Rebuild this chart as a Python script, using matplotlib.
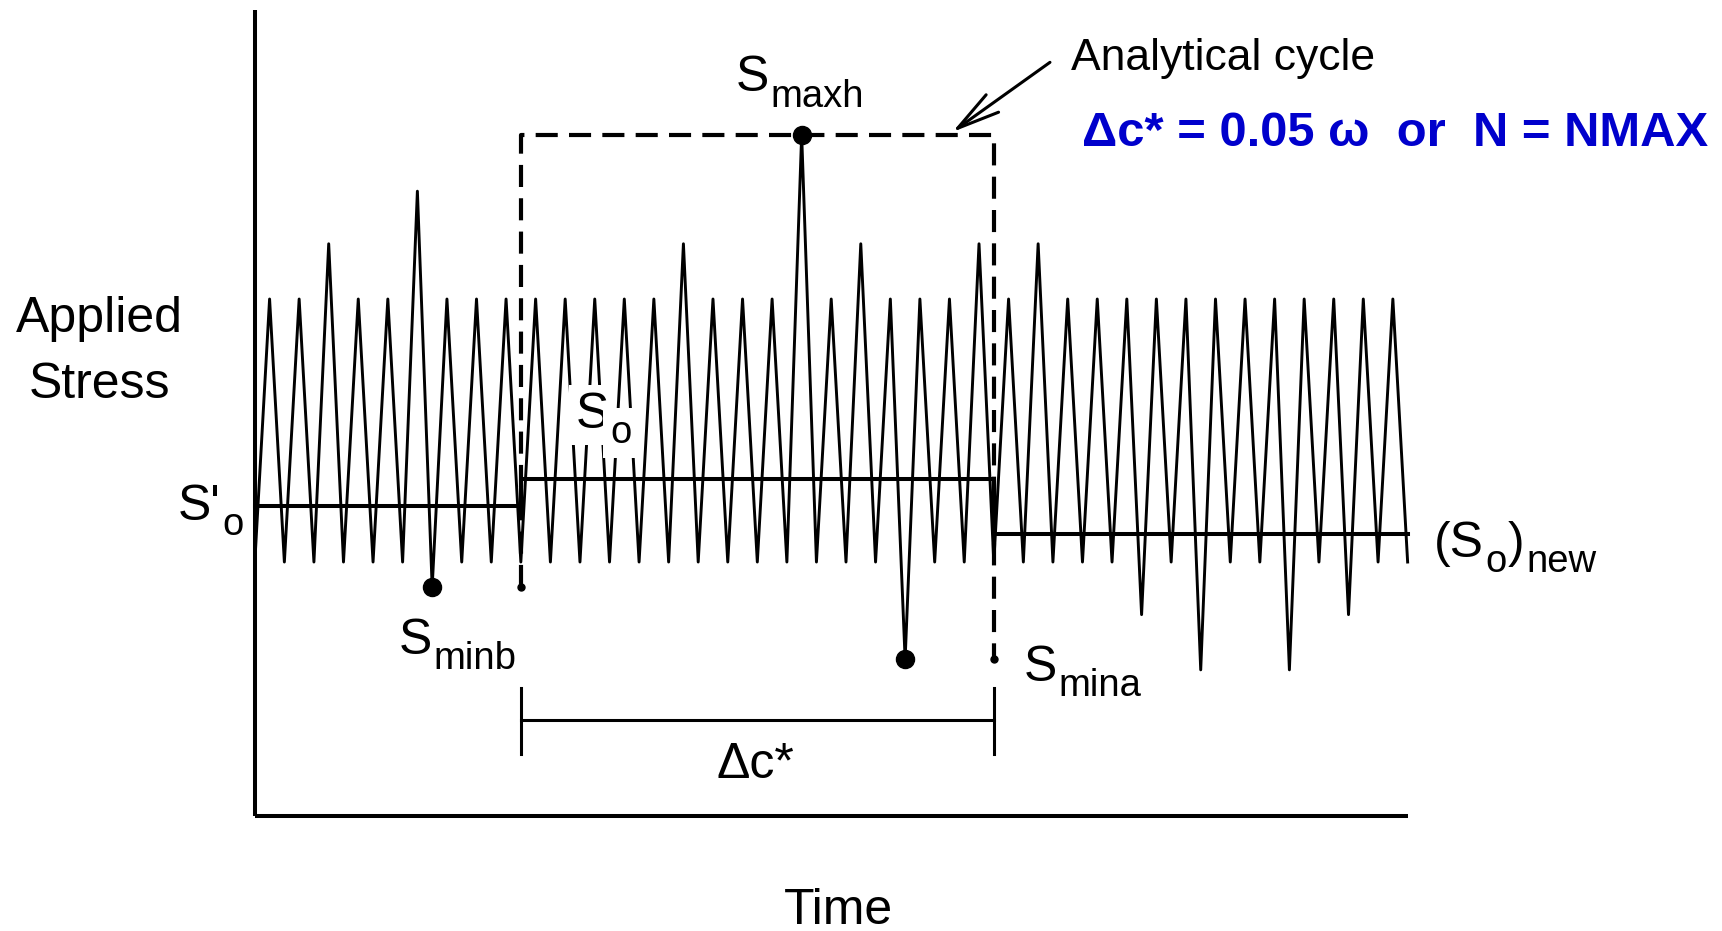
import matplotlib
matplotlib.use('Agg')
import matplotlib.pyplot as plt
import numpy as np

plt.rcParams['font.family'] = ['Liberation Sans', 'DejaVu Sans']

# applied stress at every reversal (half cycle), arbitrary units
stress = [0, 10, 0, 10, 0, 12.1, 0, 10, 0, 10, 0, 14.1, -0.95, 10, 0, 10, 0, 10, 0,
          10, 0, 10, 0, 10, 0, 10, 0, 10, 0, 12.1, 0, 10, 0, 10, 0, 10, 0, 16.25, 0,
          10, 0, 12.1, 0, 10, -3.7, 10, 0, 10, 0, 12.1, 0,
          10, 0, 12.1, 0, 10, 0, 10, 0, 10, -2.0, 10, 0, 10, -4.1, 10, 0, 10, 0,
          10, -4.1, 10, 0, 10, -2.0, 10, 0, 10, 0]
reversal = np.arange(len(stress))

# analytical cycle bounds (reversal index) and extremes
cycle_start, cycle_end = 18, 50
s_maxh = 16.25
s_minb = -0.95
s_mina = -3.7
i_maxh, i_minb, i_mina = 37, 12, 44

# mean stress levels: before, inside, after the cycle
mean_x = [0, 18, 18, 50, 50, 78]
mean_y = [2.12, 2.12, 3.17, 3.17, 1.08, 1.08]

axis_top = 21.0
axis_bottom = -9.66
bracket_y = -6.0

fig = plt.figure(figsize=(17.22, 9.31), dpi=100)
ax = fig.add_axes([0, 0, 1, 1])
ax.set_xlim(-17.24, 99.27)
ax.set_ylim(-14.03, 21.37)
ax.axis('off')
renderer = fig.canvas.get_renderer()

# axes lines
ax.plot([0, 0], [axis_top, axis_bottom], color='black', lw=2.9, solid_capstyle='butt')
ax.plot([0, reversal[-1]], [axis_bottom, axis_bottom], color='black', lw=2.9,
        solid_capstyle='butt')

# load history and mean levels
ax.plot(reversal, stress, color='black', lw=2.1, zorder=3)
ax.plot(mean_x, mean_y, color='black', lw=2.9, zorder=3)

# analytical cycle box
dash = (0, (5.3, 2.7))
ax.plot([cycle_start, cycle_start, cycle_end, cycle_end],
        [s_minb, s_maxh, s_maxh, s_mina], color='black', lw=3, ls=dash, zorder=2)
ax.plot([cycle_start, cycle_end], [s_minb, s_mina], 'o', color='black', ms=5, zorder=4)
ax.plot([i_minb, i_maxh, i_mina], [s_minb, s_maxh, s_mina], 'o', color='black',
        ms=13, zorder=4)

# delta c* bracket
ax.plot([cycle_start, cycle_end], [bracket_y, bracket_y], color='black', lw=2.2)
for xb in (cycle_start, cycle_end):
    ax.plot([xb, xb], [bracket_y + 1.2, bracket_y - 1.3], color='black', lw=2.2)


def label(x, y, parts, box=False):
    # parts: list of (text, is_subscript); chained left to right
    off = 0.0
    for s, sub in parts:
        kw = dict(fontsize=27.5 if sub else 36, ha='left', va='baseline', zorder=5)
        if box:
            kw['bbox'] = dict(fc='white', ec='none', pad=5)
        t = ax.annotate(s, xy=(x, y), xytext=(off, -11 if sub else 0),
                        textcoords='offset points', **kw)
        off += t.get_window_extent(renderer).width * 72 / fig.dpi + 1
    return off


fs = 36
ax.text(-10.5, 8.75, 'Applied', fontsize=fs, ha='center', va='baseline')
ax.text(-10.5, 6.25, 'Stress', fontsize=fs, ha='center', va='baseline')
ax.text(39.5, -13.75, 'Time', fontsize=fs, ha='center', va='baseline')
label(-5.2, 1.6, [("S'", False), ('o', True)])
label(9.77, -3.5, [('S', False), ('minb', True)])
label(21.7, 5.1, [('S', False), ('o', True)], box=True)
label(32.57, 17.9, [('S', False), ('maxh', True)])
label(52.0, -4.52, [('S', False), ('mina', True)])
label(79.8, 0.19, [('(S', False), ('o', True), (')', False), ('new', True)])
ax.text(33.9, -8.2, '\u0394c*', fontsize=fs, ha='center', va='baseline')

ax.text(55.2, 18.7, 'Analytical cycle', fontsize=32, ha='left', va='baseline')
ax.text(56.0, 15.8, '\u0394c* = 0.05 \u03c9  or  N = NMAX', fontsize=35.3,
        fontweight='bold', color='#0000cc', ha='left', va='baseline')

ax.annotate('', xy=(47.2, 16.35), xytext=(53.8, 19.0),
            arrowprops=dict(arrowstyle='->,head_length=1.4,head_width=0.35', lw=2.2,
                            color='black', mutation_scale=22, shrinkA=0, shrinkB=0))

fig.savefig('out.png', dpi=100)
